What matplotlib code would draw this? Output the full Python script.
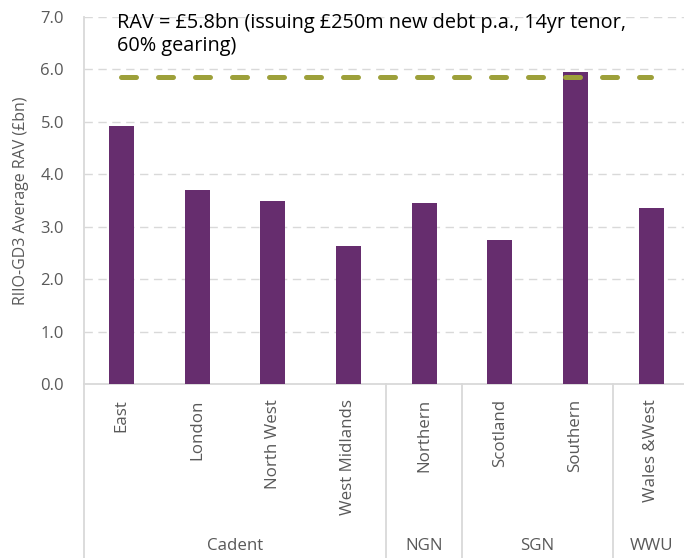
import matplotlib
matplotlib.use("Agg")
import matplotlib.pyplot as plt
from matplotlib.lines import Line2D

plt.rcParams['font.family'] = ['Open Sans', 'DejaVu Sans']

categories = ["East", "London", "North West", "West Midlands", "Northern",
              "Scotland", "Southern", "Wales &West"]
groups = ["Cadent", "NGN", "SGN", "WWU"]
group_sizes = [4, 1, 2, 1]
rav_values = [4.92, 3.70, 3.50, 2.64, 3.46, 2.74, 5.95, 3.36]
benchmark = 5.85
benchmark_label = "RAV = £5.8bn (issuing £250m new debt p.a., 14yr tenor,\n60% gearing)"
yticks = [0, 1, 2, 3, 4, 5, 6, 7]

W, H = 684, 558
fig = plt.figure(figsize=(W / 100, H / 100), dpi=100)
x0, x1 = 83.5, 689.0
ytop, ybot = 17.0, 384.0
ax = fig.add_axes([x0 / W, 1 - ybot / H, (x1 - x0) / W, (ybot - ytop) / H])

n = len(categories)
xs = list(range(n))
ax.bar(xs, rav_values, width=0.33, color="#662D6E", zorder=3)
ax.plot([xs[0], xs[-1]], [benchmark, benchmark], color="#9DA03A", lw=3.6,
        dashes=(3.0, 4.4), solid_capstyle="round", dash_capstyle="round", zorder=4)

ax.set_xlim(-0.5, n - 0.5)
ax.set_ylim(0, 7)
ax.set_yticks(yticks)
ax.set_yticklabels([f"{v:.1f}" for v in yticks], color="#595959", fontsize=12)
ax.tick_params(axis="y", length=0, pad=14)
ax.set_xticks([])
for y in yticks[1:]:
    ax.axhline(y, color="#D9D9D9", lw=1.0, dashes=(6, 4), zorder=1)
for s in ["top", "right", "left"]:
    ax.spines[s].set_visible(False)
ax.spines["bottom"].set_color("#D9D9D9")
ax.spines["bottom"].set_linewidth(1.3)

ax.set_ylabel("RIIO-GD3 Average RAV (£bn)", color="#595959", fontsize=11.5, labelpad=8)

ax.text(-0.06, 7.07, benchmark_label, fontsize=14.3, color="black",
        va="top", ha="left", linespacing=1.15)

# category labels
for i, c in enumerate(categories):
    ax.annotate(c, xy=(i, 0), xycoords="data", xytext=(0, -11), textcoords="offset points",
                rotation=90, ha="center", va="top", color="#595959", fontsize=12.2)

# left axis line extending to bottom of figure
fig.add_artist(Line2D([x0 / W, x0 / W], [0, 1 - ytop / H], color="#D9D9D9", lw=1.3,
                      transform=fig.transFigure))

# group separators and labels
step = (x1 - x0) / n
start = 0
for g, sz in zip(groups, group_sizes):
    end = start + sz
    if start > 0:
        xp = (x0 + start * step) / W
        fig.add_artist(Line2D([xp, xp], [0, 1 - ybot / H], color="#D9D9D9", lw=1.3,
                              transform=fig.transFigure))
    cx = (x0 + (start + end) / 2 * step) / W
    fig.text(cx, 1 - 546 / H, g, ha="center", va="center", color="#595959", fontsize=12.2)
    start = end

fig.savefig("out.png", dpi=100)
